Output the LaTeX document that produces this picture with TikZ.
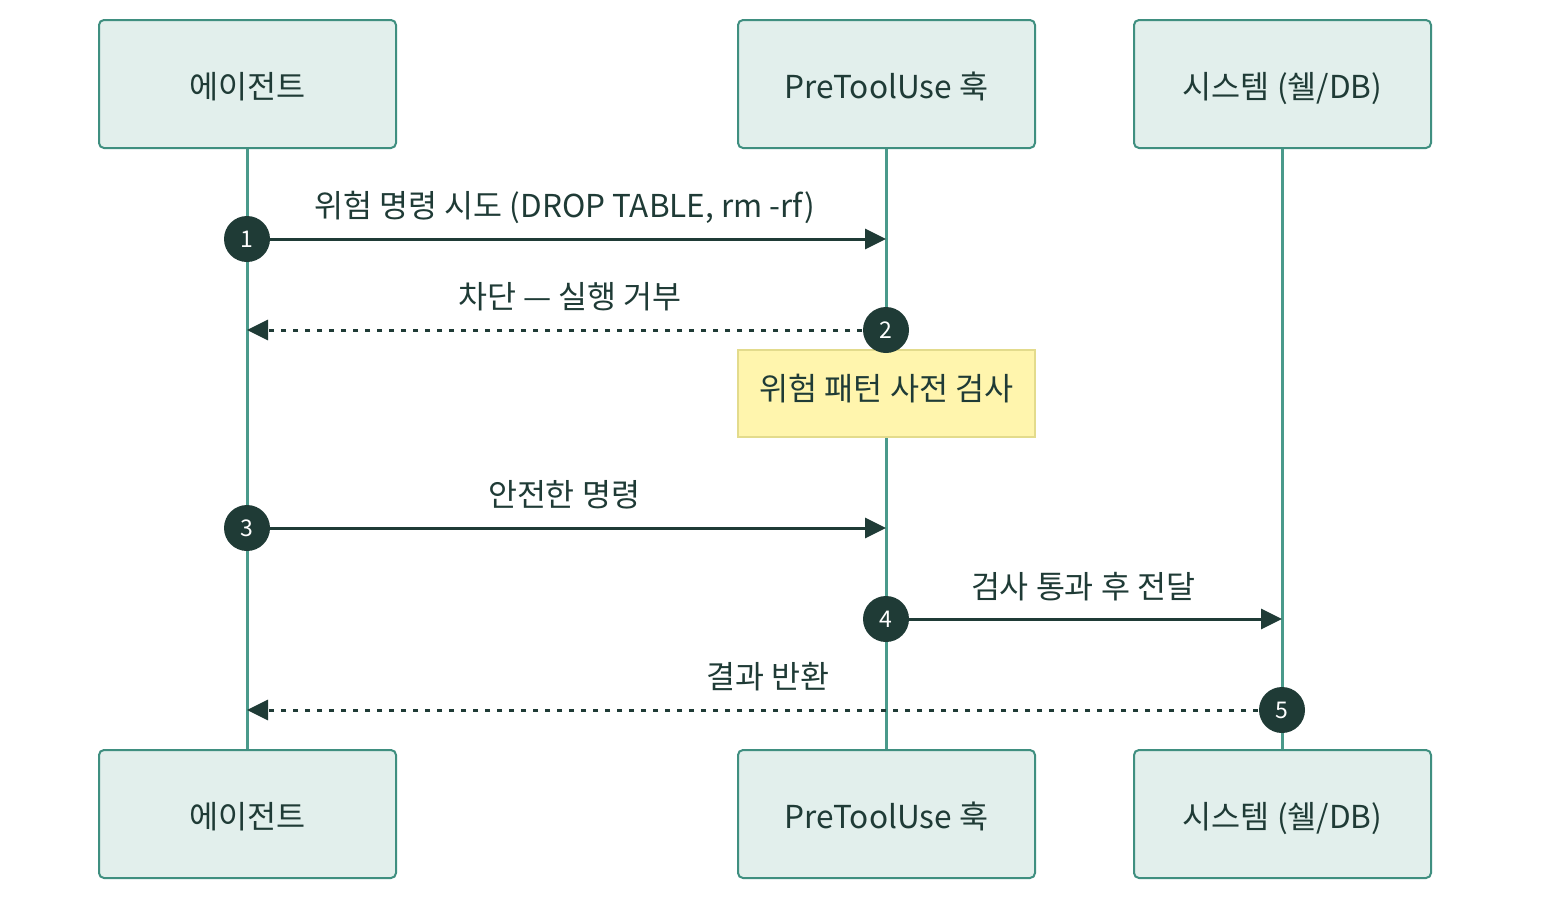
\documentclass[tikz,border=0pt]{standalone}
\usepackage{fontspec}
\setmainfont{Noto Sans CJK KR}
\usetikzlibrary{arrows.meta}
\definecolor{boxfill}{HTML}{E2EFEC}
\definecolor{boxline}{HTML}{3F8F80}
\definecolor{life}{HTML}{4A9A8B}
\definecolor{dark}{HTML}{1F3B36}
\definecolor{notefill}{HTML}{FFF5AD}
\definecolor{noteline}{HTML}{E3DB8C}
\tikzset{
  actor/.style={draw=boxline, fill=boxfill, line width=1pt, rounded corners=2.5pt, minimum width=148.5pt, minimum height=64pt, inner sep=0pt, text height=16.5pt, text depth=2.5pt, font=\fontsize{15.8}{18}\selectfont, text=dark},
  lifeline/.style={draw=life, line width=1.7pt},
  msg/.style={draw=dark, line width=1.5pt, -{Triangle[length=10.5pt,width=10pt]}},
  ret/.style={msg, dash pattern=on 2.5pt off 3.5pt},
  num/.style={circle, fill=dark, minimum size=23pt, inner sep=0pt, text=white, font=\fontsize{11.5}{12}\selectfont},
  lbl/.style={font=\fontsize{15.75}{18}\selectfont, text=dark, inner sep=0pt},
  note/.style={draw=noteline, fill=notefill, line width=1pt, minimum width=148.5pt, minimum height=43.5pt, inner sep=0pt, text height=9pt, text depth=2pt, font=\fontsize{15.8}{18}\selectfont, text=dark}
}
\begin{document}
\begin{tikzpicture}[x=0.5pt,y=-0.5pt]
\useasboundingbox[fill=white] (0,0) rectangle (1546,910);
% actors top
\node[actor] (at) at (247.5,84) {에이전트};
\node[actor] (ht) at (886.5,84) {PreToolUse 훅};
\node[actor] (st) at (1282.5,84) {시스템 (쉘/DB)};
\node[actor] (ab) at (247.5,814) {에이전트};
\node[actor] (hb) at (886.5,814) {PreToolUse 훅};
\node[actor] (sb) at (1282.5,814) {시스템 (쉘/DB)};
% lifelines
\draw[lifeline] (at.south) -- (ab.north);
\draw[lifeline] (ht.south) -- (hb.north);
\draw[lifeline] (st.south) -- (sb.north);
% anchor coordinates
\coordinate (a1) at (247,239); \coordinate (h1) at (886,239);
\coordinate (a2) at (247,330); \coordinate (h2) at (886,330);
\coordinate (a3) at (247,528); \coordinate (h3) at (886,528);
\coordinate (h4) at (886,619); \coordinate (s4) at (1282,619);
\coordinate (a5) at (247,710); \coordinate (s5) at (1282,710);
% note
\node[note] (nt) at (886.5,393.5) {위험 패턴 사전 검사};
% messages
\draw[msg] (a1) -- (h1);
\node[lbl] (l1) at (565,207) {위험 명령 시도 (DROP TABLE, rm -rf)};
\node[num] (n1) at (a1) {1};
\draw[ret] (h2) -- (a2);
\node[lbl] (l2) at (570,297) {차단 — 실행 거부};
\node[num] (n2) at (h2) {2};
\draw[msg] (a3) -- (h3);
\node[lbl] (l3) at (564,495) {안전한 명령};
\node[num] (n3) at (a3) {3};
\draw[msg] (h4) -- (s4);
\node[lbl] (l4) at (1083,587) {검사 통과 후 전달};
\node[num] (n4) at (h4) {4};
\draw[ret] (s5) -- (a5);
\node[lbl] (l5) at (768,677) {결과 반환};
\node[num] (n5) at (s5) {5};
\end{tikzpicture}
\end{document}
